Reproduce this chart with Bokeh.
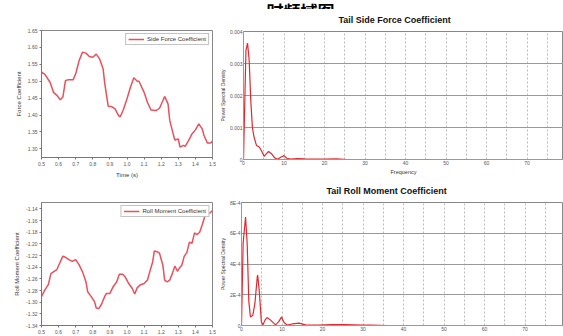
from bokeh.plotting import figure
from bokeh.layouts import column, row
from bokeh.models import FixedTicker, Label, Range1d
from bokeh.embed import file_html
from bokeh.resources import INLINE

# ---------------- data ----------------
side_t = [0.50, 0.52, 0.55, 0.57, 0.59, 0.61, 0.625, 0.64, 0.655, 0.685, 0.70, 0.72, 0.74, 0.76,
          0.78, 0.80, 0.82, 0.84, 0.86, 0.87, 0.89, 0.91, 0.93, 0.95, 0.96, 0.98, 1.00, 1.02,
          1.04, 1.06, 1.07, 1.10, 1.12, 1.14, 1.17, 1.19, 1.21, 1.22, 1.24, 1.25, 1.27, 1.28,
          1.30, 1.31, 1.33, 1.34, 1.36, 1.38, 1.40, 1.42, 1.44, 1.45, 1.47, 1.49, 1.50]
side_v = [1.527, 1.520, 1.497, 1.467, 1.458, 1.445, 1.453, 1.502, 1.504, 1.504, 1.522, 1.561, 1.586, 1.583,
          1.573, 1.571, 1.580, 1.566, 1.537, 1.493, 1.426, 1.425, 1.418, 1.399, 1.394, 1.418, 1.448, 1.482,
          1.510, 1.500, 1.500, 1.467, 1.437, 1.415, 1.413, 1.420, 1.443, 1.455, 1.433, 1.384, 1.344, 1.326,
          1.329, 1.305, 1.310, 1.307, 1.324, 1.344, 1.356, 1.374, 1.359, 1.340, 1.317, 1.317, 1.323]

roll_t = [0.50, 0.52, 0.54, 0.555, 0.57, 0.59, 0.605, 0.625, 0.64, 0.66, 0.68, 0.70, 0.72, 0.74,
          0.76, 0.77, 0.79, 0.81, 0.82, 0.835, 0.85, 0.87, 0.88, 0.90, 0.92, 0.94, 0.955, 0.975,
          0.99, 1.01, 1.03, 1.045, 1.06, 1.08, 1.10, 1.12, 1.13, 1.15, 1.16, 1.18, 1.19, 1.21,
          1.22, 1.235, 1.25, 1.265, 1.28, 1.295, 1.31, 1.32, 1.335, 1.35, 1.365, 1.38, 1.395,
          1.41, 1.425, 1.44, 1.455, 1.47, 1.485, 1.50]
roll_v = [-1.290, -1.279, -1.270, -1.251, -1.248, -1.244, -1.234, -1.221, -1.223, -1.227, -1.230, -1.227,
          -1.236, -1.248, -1.265, -1.282, -1.290, -1.299, -1.310, -1.311, -1.304, -1.290, -1.285, -1.285,
          -1.273, -1.265, -1.252, -1.252, -1.257, -1.268, -1.276, -1.286, -1.275, -1.270, -1.268, -1.262,
          -1.251, -1.231, -1.212, -1.214, -1.216, -1.237, -1.262, -1.265, -1.262, -1.251, -1.238, -1.247,
          -1.240, -1.237, -1.221, -1.215, -1.197, -1.199, -1.181, -1.184, -1.180, -1.167, -1.153, -1.148,
          -1.147, -1.143]

psd_side_f = [0, 0.6, 1.0, 1.4, 1.8, 2.2, 2.6, 3.2, 3.9, 4.4, 5.1, 5.5, 6.2, 6.9, 7.7, 8.4, 9.2,
              10.0, 10.7, 11.6, 13.3, 15.0, 17.4, 20.0, 23.0, 25.6, 40.0, 60.0, 80.0]
psd_side_v = [0, 0.0034, 0.00364, 0.0031, 0.00184, 0.0010, 0.0007, 0.00044, 0.00039, 0.00028, 0.00010,
              0.00016, 0.00025, 0.00018, 0.00005, 0.00001, 0.00007, 0.00012, 0.00004, 0.00001, 0.00003,
              0.00002, 0.00001, 0.00001, 0.00002, 0.0, 0.0, 0.0, 0.0]

psd_roll_f = [0, 0.4, 1.0, 1.4, 1.8, 2.2, 2.8, 3.3, 3.9, 4.0, 4.4, 4.9, 5.3, 5.8, 6.3, 7.2, 8.4,
              9.2, 9.9, 10.5, 11.3, 12.5, 14.2, 15.8, 19.0, 22.4, 25.7, 29.8, 32.0, 36.0, 50.0, 80.0]
psd_roll_v = [0, 5.35e-4, 7.06e-4, 5.35e-4, 1.6e-4, 0.56e-4, 0.67e-4, 1.4e-4, 3.17e-4, 3.27e-4, 2.2e-4,
              0.25e-4, 0.04e-4, 0.35e-4, 0.52e-4, 0.35e-4, 0.04e-4, 0.25e-4, 0.56e-4, 0.19e-4, 0.02e-4,
              0.10e-4, 0.15e-4, 0.04e-4, 0.02e-4, 0.06e-4, 0.06e-4, 0.02e-4, 0.02e-4, 0.0, 0.0, 0.0]

time_ticks = [0.5, 0.6, 0.7, 0.8, 0.9, 1.0, 1.1, 1.2, 1.3, 1.4, 1.5]
side_ticks = [1.30, 1.35, 1.40, 1.45, 1.50, 1.55, 1.60, 1.65]
roll_ticks = [-1.34, -1.32, -1.30, -1.28, -1.26, -1.24, -1.22, -1.20, -1.18, -1.16, -1.14]
freq_ticks = [0, 10, 20, 30, 40, 50, 60, 70]
freq_grid = [0, 5, 10, 15, 20, 25, 30, 35, 40, 45, 50, 55, 60, 65, 70, 75]
psd_side_ticks = [0, 0.001, 0.002, 0.003, 0.004]
psd_side_labels = ["0", "0.001", "0.002", "0.003", "0.004"]
psd_roll_ticks = [0, 2e-4, 4e-4, 6e-4, 8e-4]
psd_roll_labels = ["0", "2E-4", "4E-4", "6E-4", "8E-4"]
page_title = "时频域图"

FONT = "Liberation Sans"
LINE = "#e8505b"
PSDLINE = "#e2282e"


def style_axes(p, tick_font="5px", label_font="6px", standoff=2, lstandoff=3):
    for ax in (p.xaxis[0], p.yaxis[0]):
        ax.major_label_text_font = FONT
        ax.major_label_text_font_size = tick_font
        ax.major_label_text_color = "#555555"
        ax.axis_label_text_font = FONT
        ax.axis_label_text_font_size = label_font
        ax.axis_label_text_font_style = "normal"
        ax.axis_label_text_color = "#333333"
        ax.axis_line_color = "#777777"
        ax.major_tick_line_color = "#777777"
        ax.minor_tick_line_color = None
        ax.major_label_standoff = standoff
        ax.axis_label_standoff = lstandoff
    p.outline_line_color = "#888888"
    p.background_fill_color = "white"
    p.border_fill_color = "white"


def ts_fig(t, v, legend, ylabel, yticks, yrange, width, height, borders, xlabel=None):
    p = figure(width=width, height=height, output_backend="svg", toolbar_location=None,
               x_range=Range1d(0.5, 1.5), y_range=Range1d(*yrange),
               min_border_left=borders[0], min_border_right=borders[1],
               min_border_top=borders[2], min_border_bottom=borders[3])
    p.line(t, v, line_color=LINE, line_width=1.5, legend_label=legend)
    p.xaxis.ticker = FixedTicker(ticks=time_ticks)
    p.yaxis.ticker = FixedTicker(ticks=yticks)
    p.yaxis.major_label_overrides = {k: f"{k:.2f}" for k in yticks}
    p.xaxis.major_label_overrides = {k: f"{k:.1f}" for k in time_ticks}
    if xlabel:
        p.xaxis.axis_label = xlabel
    p.yaxis.axis_label = ylabel
    p.grid.grid_line_color = None
    style_axes(p)
    for ax in (p.xaxis[0], p.yaxis[0]):
        ax.major_tick_out = 2
        ax.major_tick_in = 0
    lg = p.legend[0]
    lg.location = "top_right"
    lg.margin = 3
    lg.padding = 2
    lg.spacing = 0
    lg.label_text_font = FONT
    lg.label_text_font_size = "6px"
    lg.label_text_color = "#333333"
    lg.label_height = 6
    lg.glyph_height = 6
    lg.glyph_width = 16
    lg.label_standoff = 3
    lg.border_line_color = "#888888"
    lg.background_fill_alpha = 1
    return p


def psd_fig(f, v, title, title_offset, yticks, ylabels, xmax, width, height, borders, xlabel=None):
    p = figure(width=width, height=height, output_backend="svg", toolbar_location=None,
               x_range=Range1d(0, xmax), y_range=Range1d(0, yticks[-1]), title=title,
               min_border_left=borders[0], min_border_right=borders[1],
               min_border_top=borders[2], min_border_bottom=borders[3])
    p.line(f, v, line_color=PSDLINE, line_width=1.2)
    p.xaxis.ticker = FixedTicker(ticks=freq_ticks)
    p.yaxis.ticker = FixedTicker(ticks=yticks)
    p.yaxis.major_label_overrides = {k: s for k, s in zip(yticks, ylabels)}
    if xlabel:
        p.xaxis.axis_label = xlabel
    p.yaxis.axis_label = "Power Spectral Density"
    style_axes(p, tick_font="5px", label_font="5px", standoff=1, lstandoff=1)
    p.xaxis.axis_label_text_font_size = "5.5px"
    for ax in (p.xaxis[0], p.yaxis[0]):
        ax.major_tick_out = 0
        ax.major_tick_in = 0
        ax.axis_line_color = "#999999"
    p.xgrid.ticker = FixedTicker(ticks=freq_grid)
    p.xgrid.grid_line_color = "#bbbbbb"
    p.xgrid.grid_line_dash = "2 2"
    p.ygrid.grid_line_color = "#999999"
    p.ygrid.grid_line_dash = "solid"
    p.title.text_font = FONT
    p.title.text_font_size = "9px"
    p.title.text_font_style = "bold"
    p.title.text_color = "#111111"
    p.title.align = "left"
    p.title.offset = title_offset
    p.title.vertical_align = "top"
    return p


p1 = ts_fig(side_t, side_v, "Side Force Coefficient", "Force Coefficient", side_ticks,
            (1.2743, 1.65), 216, 180, (41, 4, 30, 23), xlabel="Time (s)")
p3 = ts_fig(roll_t, roll_v, "Roll Moment Coefficient", "Roll Moment Coefficient", roll_ticks,
            (-1.34, -1.129), 216, 156, (41, 4, 19, 11))

p2 = psd_fig(psd_side_f, psd_side_v, "Tail Side Force Coefficient", 95, psd_side_ticks, psd_side_labels,
             79.0, 347, 171, (23, 0, 22, 21), xlabel="Frequency")
p4 = psd_fig(psd_roll_f, psd_roll_v, "Tail Roll Moment Coefficient", 85, psd_roll_ticks, psd_roll_labels,
             79.5, 347, 156, (19, 0, 20, 9))

# header strip: only the lower part of the large page heading shows, as in the source image
header = figure(width=347, height=9, output_backend="svg", toolbar_location=None,
                x_range=Range1d(0, 347), y_range=Range1d(0, 9), x_axis_type=None, y_axis_type=None,
                min_border_left=0, min_border_right=0, min_border_top=0, min_border_bottom=0)
header.outline_line_color = None
header.grid.grid_line_color = None
header.add_layout(Label(x=25, y=2.5, text=page_title, text_font="Noto Sans CJK SC", text_font_size="17px",
                        text_font_style="bold", text_color="#000000", text_align="left",
                        text_baseline="alphabetic"))

layout = column(row(p1, column(header, p2)), row(p3, p4))

with open("out.html", "w") as fh:
    fh.write(file_html(layout, INLINE))
